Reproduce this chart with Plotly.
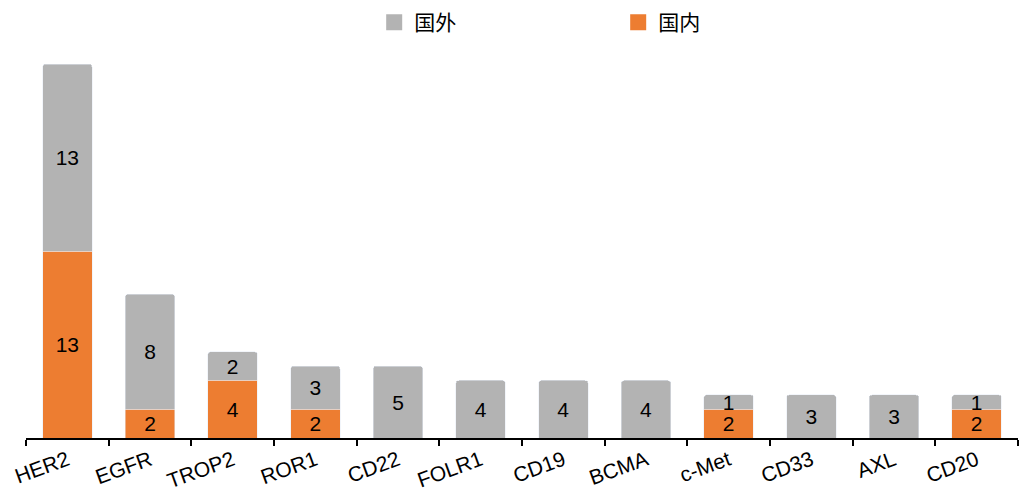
import plotly.graph_objects as go

# Target antigens and number of projects per region
targets = ["HER2", "EGFR", "TROP2", "ROR1", "CD22", "FOLR1", "CD19", "BCMA",
           "c-Met", "CD33", "AXL", "CD20"]
domestic = [13, 2, 4, 2, 0, 0, 0, 0, 2, 0, 0, 2]   # 国内
overseas = [13, 8, 2, 3, 5, 4, 4, 4, 1, 3, 3, 1]   # 国外

GRAY = "#B3B3B3"
ORANGE = "#ED7D31"
FONT = "Liberation Sans, Arial, Noto Sans CJK SC"
CJK = "Noto Sans CJK SC"


def labels(vals):
    return [str(v) if v else "" for v in vals]


fig = go.Figure()
for name, vals, color in [("国内", domestic, ORANGE), ("国外", overseas, GRAY)]:
    fig.add_trace(go.Bar(
        x=targets, y=vals, name=name, marker_color=color,
        text=labels(vals), textposition="inside", insidetextanchor="middle",
        textangle=0, constraintext="none",
        textfont=dict(color="black", size=21, family=FONT),
        showlegend=False,
    ))

# Legend entries with larger square swatches
for name, color in [("国外", GRAY), ("国内", ORANGE)]:
    fig.add_trace(go.Scatter(
        x=[None], y=[None], mode="markers", name=name,
        marker=dict(symbol="square", size=16, color=color),
    ))

fig.update_layout(
    width=1023, height=498,
    barmode="stack", bargap=0.4, barcornerradius=3,
    plot_bgcolor="white", paper_bgcolor="white",
    margin=dict(l=26, r=5, t=64, b=60),
    font=dict(family=FONT, color="black", size=21),
    showlegend=True,
    legend=dict(
        orientation="h", x=0.351, xanchor="left", y=0.996, yref="container",
        yanchor="top", font=dict(size=21, family=CJK),
        entrywidth=199, entrywidthmode="pixels", traceorder="normal",
        itemsizing="trace",
    ),
    uniformtext=dict(mode="show", minsize=21),
)
fig.update_xaxes(
    showline=True, linecolor="black", linewidth=2,
    ticks="outside", tickson="boundaries", ticklen=6, tickcolor="black",
    tickwidth=1.5, tickangle=-20, showgrid=False,
    tickfont=dict(size=21, family=FONT, color="black"),
)
fig.update_yaxes(visible=False, range=[0, 26], showgrid=False)

fig.write_html("out.html")
